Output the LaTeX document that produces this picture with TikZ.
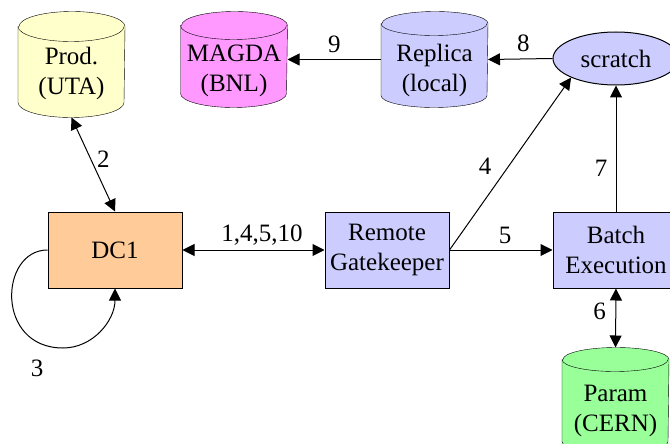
\documentclass[tikz,border=0pt]{standalone}
\usepackage{fontspec}
\setmainfont{Liberation Serif}
\newfontfamily\flowfont{Liberation Serif}
\usetikzlibrary{arrows.meta,shapes.geometric,positioning,backgrounds}
\definecolor{produta}{HTML}{FFFFCC}
\definecolor{magdapink}{HTML}{FF99FF}
\definecolor{lilac}{HTML}{CCCCFF}
\definecolor{dcorange}{HTML}{FFCC99}
\definecolor{parmgreen}{HTML}{99FF99}
% drum round a store node: node, colour, cap radius
\newcommand\drum[3]{%
  \draw[fill=#2] ([yshift=-#3]#1.north west) -- ([yshift=#3]#1.south west)
      arc[start angle=180,end angle=360,x radius=53pt,y radius=#3]
      -- ([yshift=-#3]#1.north east)
      arc[start angle=0,end angle=180,x radius=53pt,y radius=#3] -- cycle;
  \draw ([yshift=-#3]#1.north west) arc[start angle=180,end angle=360,x radius=53pt,y radius=#3];}

\begin{document}
\begin{tikzpicture}[x=1pt,y=-1pt,line width=1pt,
    every node/.style={font=\flowfont\fontsize{25}{30}\selectfont},
    proc/.style={draw,rectangle,minimum width=#1,minimum height=76pt,align=center,inner sep=0pt},
    store/.style={minimum width=106pt,minimum height=#1,inner sep=0pt},
    lbl/.style={inner sep=0pt,anchor=base},
    tip/.style={-{Triangle[length=12pt,width=12pt]}},
    both/.style={{Triangle[length=12pt,width=12pt]}-{Triangle[length=12pt,width=12pt]}}]
    \useasboundingbox (0,0) rectangle (670,444);
    \clip (0,0) rectangle (670,444);

    % stores
    \node[store=105pt] (prod) at (71.5,64.5) {};
    \node[store=95pt] (magda) at (234,59.5) {};
    \node[store=95pt] (replica) at (434.5,59.5) {};
    \node[store=105pt] (param) at (615.5,400.5) {};
    \node[align=center] (prodtxt) at ([yshift=-9pt]prod.center) {Prod.\\(UTA)};
    \node[align=center] (magdatxt) at ([yshift=-11pt]magda.center) {MAGDA\\(BNL)};
    \node[align=center] (replicatxt) at ([yshift=-11pt]replica.center) {Replica\\(local)};
    \node[align=center] (paramtxt) at ([yshift=-10.5pt]param.center) {Param\\(CERN)};
    \begin{scope}[on background layer]
        \drum{prod}{produta}{15pt}
        \drum{magda}{magdapink}{14pt}
        \drum{replica}{lilac}{12pt}
        \drum{param}{parmgreen}{12pt}
    \end{scope}
    \node[draw,ellipse,fill=lilac,minimum width=126pt,minimum height=53pt,inner sep=0pt] (scratch) at (616,58.5) {scratch};

    % processes
    \node[proc=134pt,fill=dcorange] (dc1) at (115,250) {DC1};
    \node[proc=124pt,fill=lilac] (gate) at (387,250) {Remote\\Gatekeeper};
    \node[proc=126pt,fill=lilac] (batch) at (616,250) {Batch\\Execution};

    % flows
    \draw[both] (prod.south) -- node[lbl,pos=.5,xshift=10pt,yshift=-2.5pt] {2} (dc1.north);
    \draw[tip] (dc1.west) .. controls +(-48,0) and +(-68,0) .. (63,348)
        node[lbl,xshift=-26pt,yshift=-28pt] {3}
        .. controls +(30,0) and +(0,32) .. (dc1.south);
    \draw[both] (dc1.east) -- node[lbl,pos=.56,yshift=9pt] {1,4,5,10} (gate.west);
    \draw[tip] (gate.east) -- node[lbl,pos=.44,xshift=-18pt] {4} (scratch.south west);
    \draw[tip] (gate.east) -- node[lbl,pos=.54,yshift=7pt] {5} (batch.west);
    \draw[both] (batch.south) -- node[lbl,pos=.53,xshift=-16pt] {6} (param.north);
    \draw[tip] (batch.north) -- node[lbl,pos=.28,xshift=-15pt] {7} (scratch.south);
    \draw[tip] (scratch.west) -- node[lbl,pos=.45,yshift=7pt] {8} (replica.east);
    \draw[tip] (replica.west) -- node[lbl,pos=.5,yshift=7pt] {9} (magda.east);
\end{tikzpicture}
\end{document}
